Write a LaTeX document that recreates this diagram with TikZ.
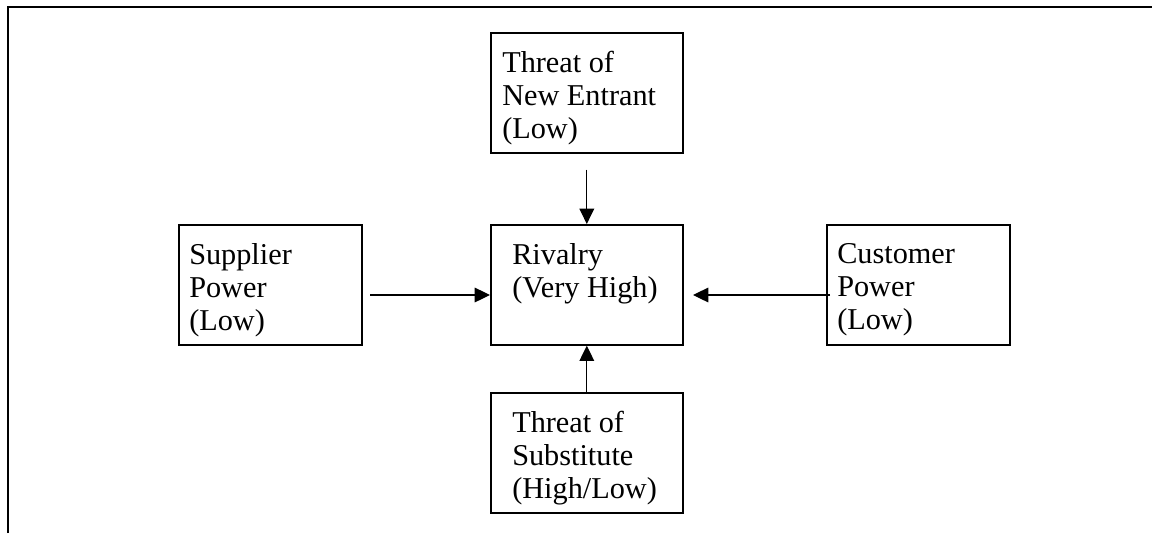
\documentclass[tikz,border=0pt]{standalone}
\usepackage{fontspec}
\setmainfont{Liberation Serif}
\usetikzlibrary{arrows.meta}

\begin{document}
\begin{tikzpicture}[x=0.75pt,y=-0.75pt,
    box/.style={draw,line width=1.2pt,anchor=north west,inner sep=0pt,minimum height=90pt},
    txt/.style={anchor=north west,inner sep=0pt,align=left,font=\fontsize{22.7}{24.75}\selectfont},
    arr/.style={-{Triangle[length=11.5pt,width=11pt]},line width=0.9pt}]
        \useasboundingbox (0,0) rectangle (1152,533);
        \draw[line width=1.6pt] (8,533) -- (8,7) -- (1152,7);

        \path
        (490,32) node[box,minimum width=144pt] (Ent) {}
        (178,224) node[box,minimum width=137.25pt] (Sup) {}
        (490,224) node[box,minimum width=144pt] (Riv) {}
        (826,224) node[box,minimum width=137.25pt] (Cus) {}
        (490,392) node[box,minimum width=144pt] (Sub) {}
        ;

        \node[txt,xshift=9pt,yshift=-14.25pt] (EntT) at (Ent.north west) {Threat of\\New Entrant\\(Low)};
        \node[txt,xshift=8.25pt,yshift=-14.25pt] (SupT) at (Sup.north west) {Supplier\\Power\\(Low)};
        \node[txt,xshift=16.5pt,yshift=-14.25pt] (RivT) at (Riv.north west) {Rivalry\\(Very High)};
        \node[txt,xshift=8.25pt,yshift=-14.25pt] (CusT) at (Cus.north west) {Customer\\Power\\(Low)};
        \node[txt,xshift=16.5pt,yshift=-14.25pt] (SubT) at (Sub.north west) {Threat of\\Substitute\\(High/Low)};

        \coordinate (EntOut) at ([yshift=-12pt]Ent.south);
        \coordinate (SupOut) at (370,295);
        \coordinate (CusOut) at (830,295);
        \coordinate (CusIn) at (693,295);

        \draw[arr] (EntOut) -- (Riv.north);
        \draw[arr] (Sub.north) -- (Riv.south);
        \draw[arr] (SupOut) -- (SupOut -| Riv.west);
        \draw[arr] (CusOut) -- (CusIn);
      \end{tikzpicture}
\end{document}
